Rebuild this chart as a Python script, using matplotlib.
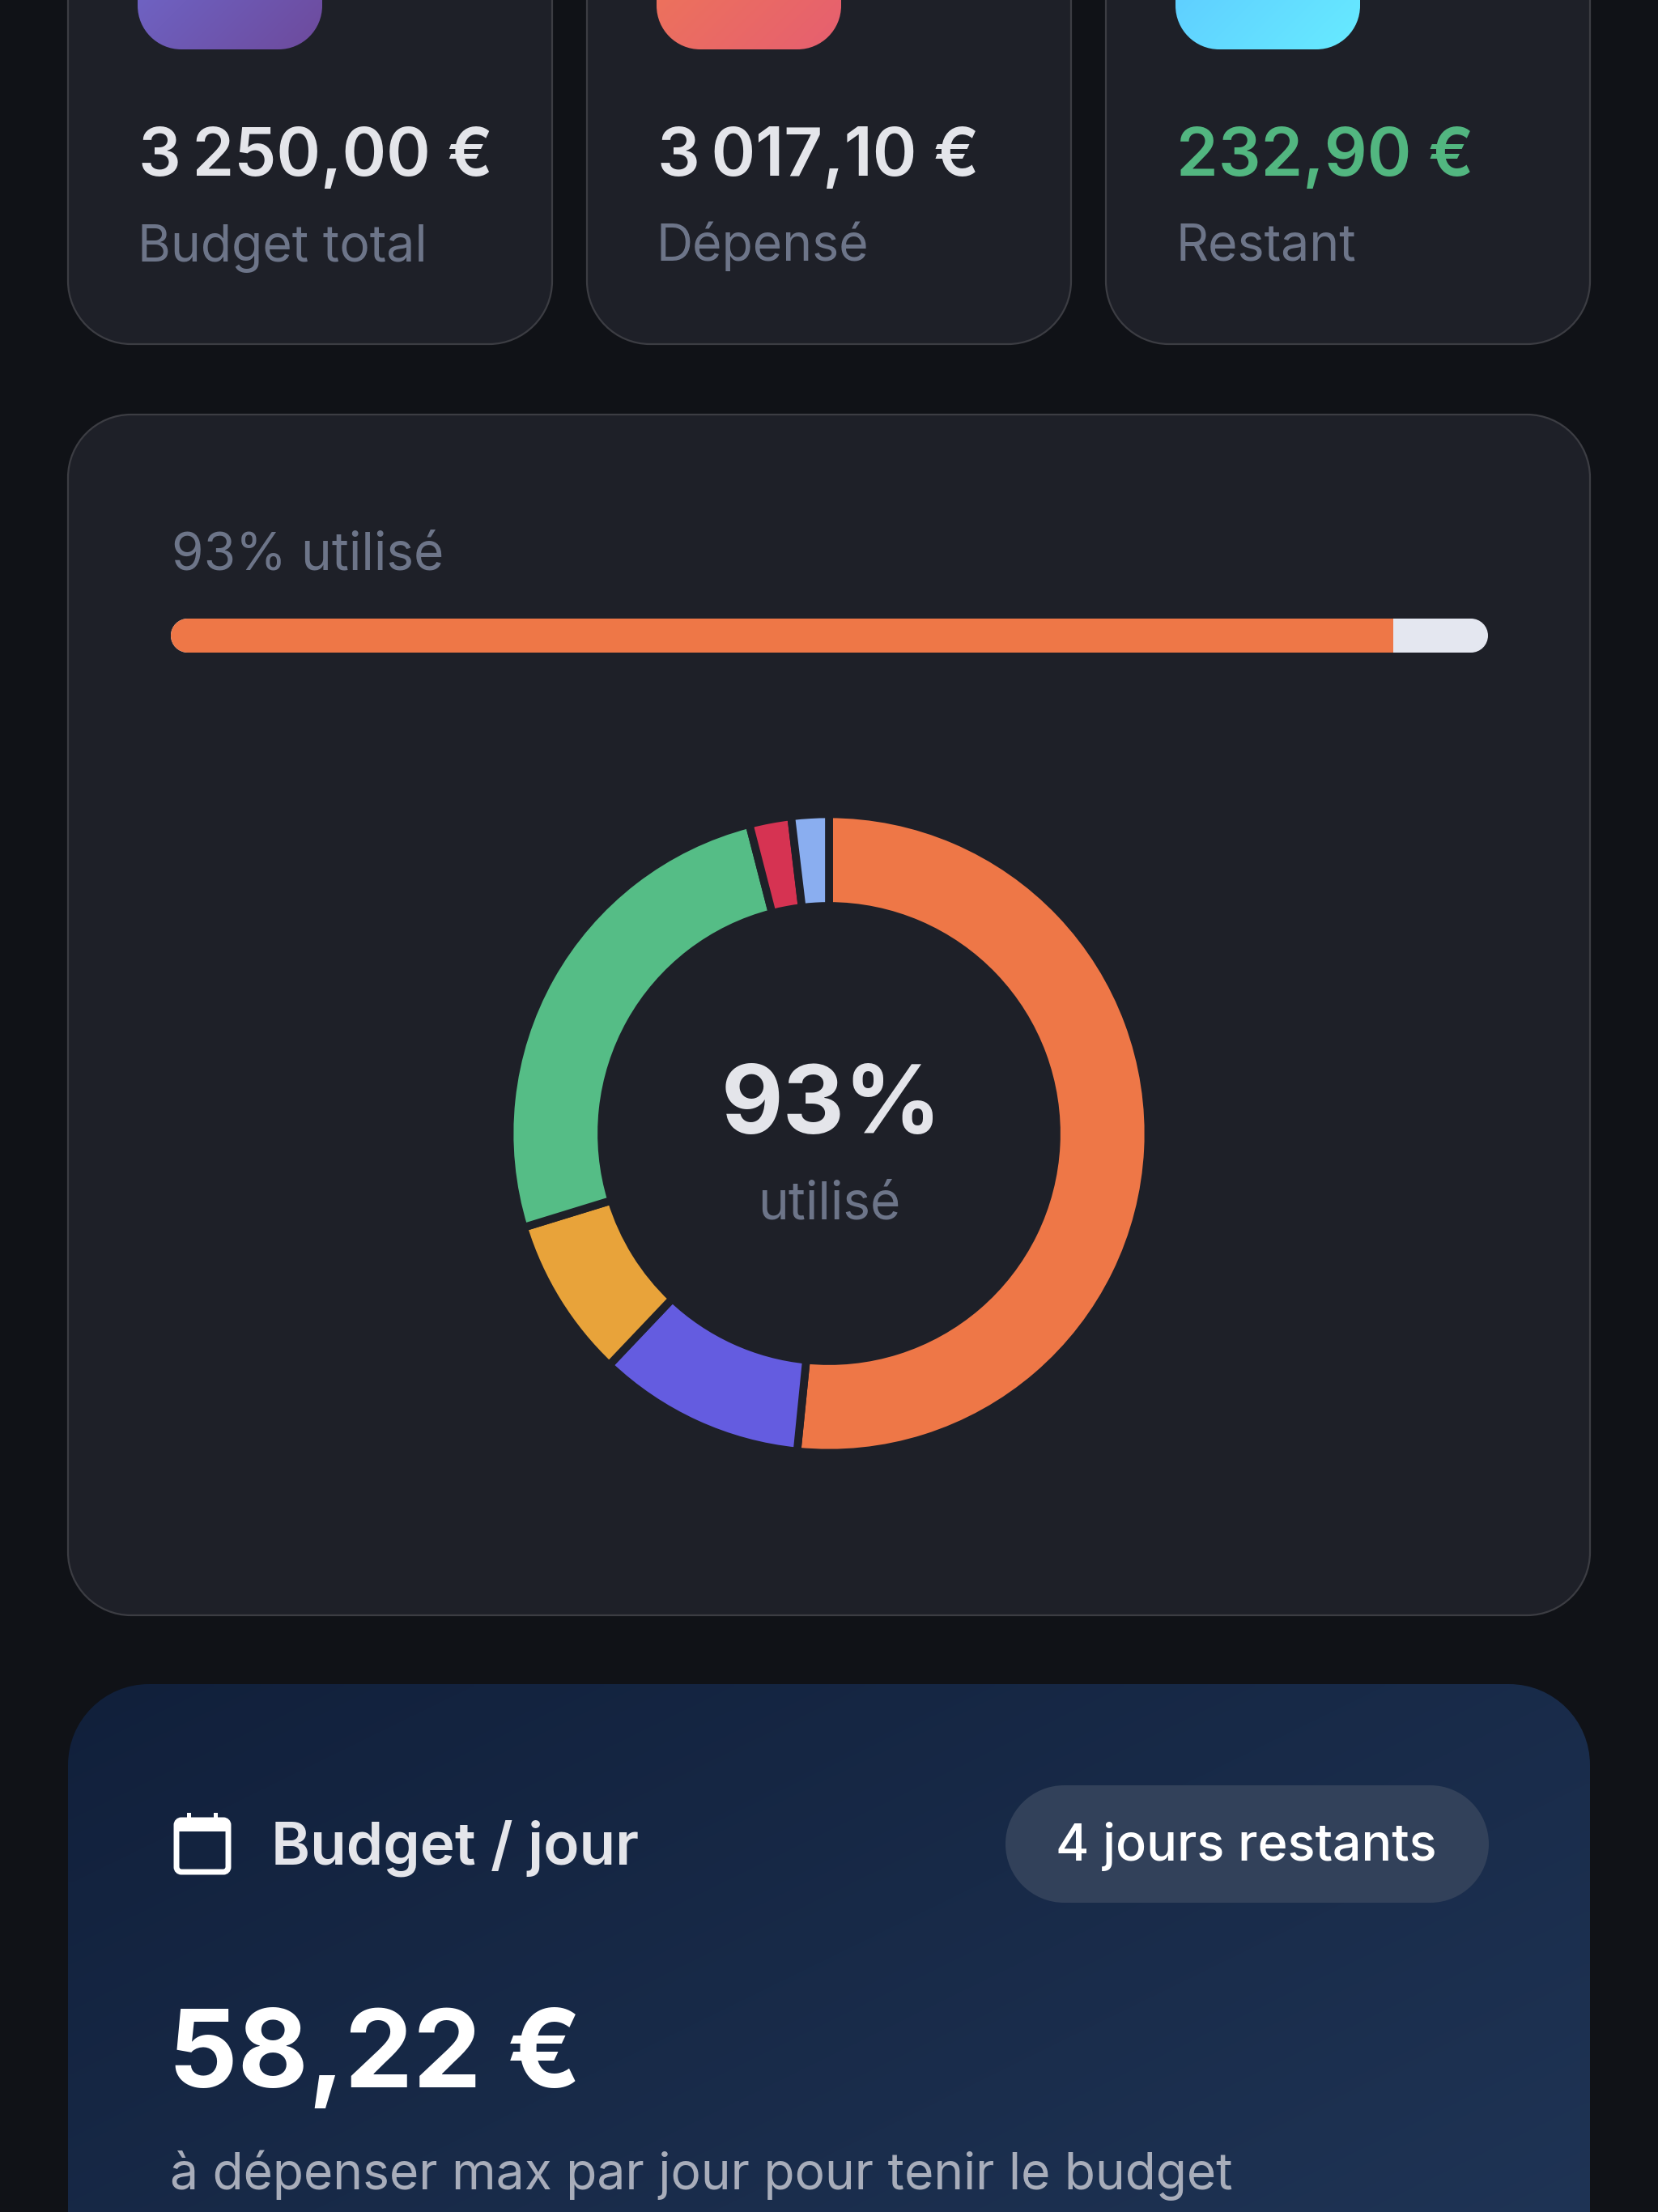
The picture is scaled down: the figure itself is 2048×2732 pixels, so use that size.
import numpy as np
import matplotlib
matplotlib.use('Agg')
import matplotlib.pyplot as plt
from matplotlib.patches import PathPatch, Rectangle
from matplotlib.path import Path
from matplotlib.colors import LinearSegmentedColormap

plt.rcParams['font.family'] = ['Inter', 'DejaVu Sans']

W, H = 2048, 2732

# Summary cards
card_values = ['3\u202f250,00 €', '3\u202f017,10 €', '232,90 €']
card_labels = ['Budget total', 'Dépensé', 'Restant']
card_value_colors = ['#e4e5ea', '#e4e5ea', '#52b680']
icon_colors = [('#6f70d8', '#6d4a9c'), ('#f07c52', '#e65f70'), ('#5bc0ff', '#67ebff')]

# Progress bar
budget_total = 3250.00
budget_spent = 3017.10
progress_label = '93% utilisé'

# Donut, clockwise from the top
donut_values = [1554, 316, 246, 775, 64, 57]
donut_colors = ['#ee7747', '#645ce0', '#e8a33a', '#55bd86', '#d63352', '#8aaef0']
donut_center_value = '93%'
donut_center_label = 'utilisé'

# Daily budget
daily_title = 'Budget / jour'
daily_badge = '4 jours restants'
daily_value = '58,22 €'
daily_note = 'à dépenser max par jour pour tenir le budget'

BG = '#101217'
PANEL = '#1e2028'
BORDER = '#3c3d43'
MUTED = '#6d7589'
K = 0.5523


def fs(px):
    """Font size in points for a size in pixels at dpi 100."""
    return px * 0.72


def rounded(ax, x0, y0, x1, y1, r, **kw):
    # true circular corners, FancyBboxPatch corners come out too square
    c = r * (1 - K)
    verts = [(x0 + r, y0), (x1 - r, y0),
             (x1 - c, y0), (x1, y0 + c), (x1, y0 + r),
             (x1, y1 - r),
             (x1, y1 - c), (x1 - c, y1), (x1 - r, y1),
             (x0 + r, y1),
             (x0 + c, y1), (x0, y1 - c), (x0, y1 - r),
             (x0, y0 + r),
             (x0, y0 + c), (x0 + c, y0), (x0 + r, y0),
             (x0 + r, y0)]
    codes = [Path.MOVETO, Path.LINETO,
             Path.CURVE4, Path.CURVE4, Path.CURVE4,
             Path.LINETO,
             Path.CURVE4, Path.CURVE4, Path.CURVE4,
             Path.LINETO,
             Path.CURVE4, Path.CURVE4, Path.CURVE4,
             Path.LINETO,
             Path.CURVE4, Path.CURVE4, Path.CURVE4,
             Path.CLOSEPOLY]
    p = PathPatch(Path(verts, codes), **kw)
    ax.add_patch(p)
    return p


def gradient_box(ax, x0, y0, x1, y1, r, c0, c1, zorder=2):
    clip = rounded(ax, x0, y0, x1, y1, r, facecolor='none', edgecolor='none', zorder=zorder)
    cmap = LinearSegmentedColormap.from_list('g', [c0, c1])
    gx, gy = np.meshgrid(np.linspace(0, 1, 200), np.linspace(0, 1, 200))
    im = ax.imshow((gx + gy) / 2, extent=(x0, x1, y1, y0), cmap=cmap, vmin=0, vmax=1,
                   aspect='auto', interpolation='bilinear', zorder=zorder)
    im.set_clip_path(clip)


fig = plt.figure(figsize=(W / 100, H / 100), dpi=100, facecolor=BG)
ax = fig.add_axes([0, 0, 1, 1])
ax.axis('off')

# Top cards
card_left = [84, 725, 1366]
for i in range(3):
    x0 = card_left[i]
    rounded(ax, x0, -120, x0 + 598, 425, 78, facecolor=PANEL, edgecolor=BORDER, linewidth=1.6, zorder=1)
    gradient_box(ax, x0 + 86, -167, x0 + 314, 61, 54, icon_colors[i][0], icon_colors[i][1])
    ax.text(x0 + 87, 217, card_values[i], color=card_value_colors[i], fontsize=fs(83),
            fontweight='semibold', va='baseline', ha='left', zorder=3)
    ax.text(x0 + 86, 322, card_labels[i], color=MUTED, fontsize=fs(62.5),
            va='baseline', ha='left', zorder=3)

# Main panel
rounded(ax, 84, 512, 1964, 1995, 78, facecolor=PANEL, edgecolor=BORDER, linewidth=1.6, zorder=1)
ax.text(212, 703, progress_label, color=MUTED, fontsize=fs(64), va='baseline', ha='left', zorder=3)
track = rounded(ax, 211, 764, 1838, 806, 21, facecolor='#e4e7f0', edgecolor='none', zorder=2)

# Daily card
gradient_box(ax, 84, 2080, 1964, 3000, 100, '#11203b', '#213759')
ax.text(335, 2303, daily_title, color='#e4e5ea', fontsize=fs(73), fontweight='semibold', va='baseline', zorder=3)
rounded(ax, 1242, 2205, 1839, 2350, 72.5, facecolor='#32415a', edgecolor='none', zorder=3)
ax.text(1539, 2298, daily_badge, color='white', fontsize=fs(63), fontweight='medium', va='baseline', ha='center', zorder=4)
ax.text(208, 2578, daily_value, color='white', fontsize=fs(134), fontweight='bold', va='baseline', zorder=3)
ax.text(210, 2704, daily_note, color='#a8adba', fontsize=fs(62.3), va='baseline', zorder=3)

# Calendar icon
rounded(ax, 218, 2248, 282, 2312, 6, facecolor='none', edgecolor='white', linewidth=5, zorder=3)
ax.add_patch(Rectangle((218, 2248), 64, 14, facecolor='white', edgecolor='none', zorder=3))
ax.add_patch(Rectangle((231, 2239), 5, 10, facecolor='white', edgecolor='none', zorder=3))
ax.add_patch(Rectangle((264, 2239), 5, 10, facecolor='white', edgecolor='none', zorder=3))

ax.set_xlim(0, W)
ax.set_ylim(H, 0)

# Progress fill, clipped by the rounded track
bar_ax = fig.add_axes([211 / W, 1 - 806 / H, (1838 - 211) / W, 42 / H])
bar_ax.axis('off')
fill = bar_ax.barh([0], [budget_spent / budget_total * 100], height=1, color='#ee7747')
bar_ax.set_xlim(0, 100)
bar_ax.set_ylim(-0.5, 0.5)
for b in fill:
    b.set_clip_path(track)

# Donut
half = 400
pie_ax = fig.add_axes([(1024 - half) / W, 1 - (1400 + half) / H, 2 * half / W, 2 * half / H])
pie_ax.pie(donut_values, colors=donut_colors, startangle=90, counterclock=False, radius=394.5,
           wedgeprops={'width': 113.5, 'edgecolor': PANEL, 'linewidth': 7})
pie_ax.set_xlim(-half, half)
pie_ax.set_ylim(-half, half)
pie_ax.text(3, 0, donut_center_value, color='#e4e5ea', fontsize=fs(118), fontweight='bold',
            ha='center', va='baseline')
pie_ax.text(0, -106, donut_center_label, color=MUTED, fontsize=fs(64), ha='center', va='baseline')

fig.savefig('out.png', dpi=100, facecolor=BG)
